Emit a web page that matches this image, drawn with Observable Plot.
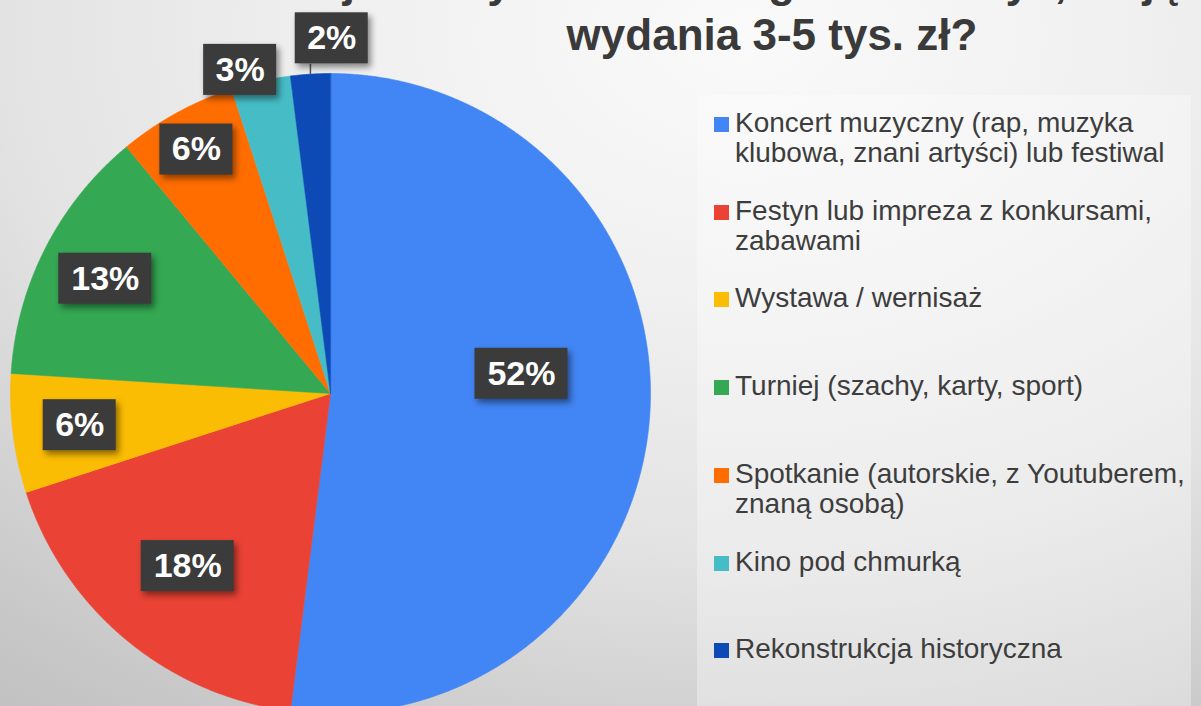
<!DOCTYPE html>
<html><head><meta charset="utf-8">
<script src="https://cdn.jsdelivr.net/npm/d3@7"></script>
<script src="https://cdn.jsdelivr.net/npm/@observablehq/plot@0.6"></script>
<style>
html,body{margin:0;padding:0;width:1201px;height:706px;overflow:hidden}
#wrap{position:relative;width:1201px;height:706px;overflow:hidden;
  background:radial-gradient(ellipse 1300px 900px at 745px 35px,#fafafa 0%,#f0f0f0 30%,#e3e3e3 57%,#c8c8c8 85%,#bdbdbd 100%);
  font-family:"Liberation Sans",Arial,Helvetica,sans-serif}
#panel{position:absolute;left:697px;top:95px;width:494px;height:611px;background:rgba(255,255,255,0.32)}
#chart{position:absolute;left:0;top:0}
#chart svg{background:transparent;overflow:visible}
#chart g[aria-label="rect"] rect{filter:drop-shadow(3px 4px 3px rgba(0,0,0,0.45))}
#title{position:absolute;left:772px;top:-34px;transform:translateX(-50%);white-space:nowrap;text-align:center;
  font-weight:bold;font-size:44px;line-height:46px;color:#3a3a3a}
#title span{display:block;position:relative}
#title span.first{top:-7px}
#legend{position:absolute;left:714px;top:0;width:487px}
.item{position:absolute;left:0;display:flex;align-items:flex-start}
.sw{width:15px;height:15px;margin-top:9px;margin-right:6px;flex:none}
.lt{font-size:28px;line-height:30px;color:#3d3d3d;width:466px}
</style></head><body>
<div id="wrap"><div id="panel"></div><div id="chart"></div><div id="title"></div><div id="legend"></div></div>
<script>
// ---- data ----
const categories = [
  "Koncert muzyczny (rap, muzyka klubowa, znani artyści) lub festiwal",
  "Festyn lub impreza z konkursami, zabawami",
  "Wystawa / wernisaż",
  "Turniej (szachy, karty, sport)",
  "Spotkanie (autorskie, z Youtuberem, znaną osobą)",
  "Kino pod chmurką",
  "Rekonstrukcja historyczna"
];
const values = [52, 18, 6, 13, 6, 3, 2];
const valueLabels = ["52%", "18%", "6%", "13%", "6%", "3%", "2%"];
const colors = ["#4285f4", "#ea4335", "#fbbc04", "#34a853", "#ff6d01", "#46bdc6", "#0d4ab6"];
const titleLines = ["Na jakie wydarzenie zorganizowałbyś, mając do", "wydania 3-5 tys. zł?"];

// ---- layout (label placement, not data) ----
const W = 1201, H = 706, R = 320, CX = 330, CY = 393;
const labelRadius = [0.6, 0.70, 0.79, 0.79, 0.87, 1.05, 1.11];
const labelAngleShift = [-9.5, 0, 0, 0, 0, -3, 3.8];
const boxH = 51;

// ---- geometry from data ----
const total = d3.sum(values);
let acc = 0;
const slices = values.map((v, i) => {
  const a0 = acc / total * 360; acc += v; const a1 = acc / total * 360;
  return {cat: categories[i], a0, a1, mid: (a0 + a1) / 2, i};
});
const rad = d => d * Math.PI / 180;
const pts = [];
for (const s of slices) {
  pts.push({cat: s.cat, x: 0, y: 0});
  const n = Math.max(2, Math.ceil((s.a1 - s.a0) / 0.25));
  for (let k = 0; k <= n; k++) {
    const a = rad(s.a0 + (s.a1 - s.a0) * k / n);
    pts.push({cat: s.cat, x: Math.sin(a), y: Math.cos(a)});
  }
}
const lab = slices.map(s => {
  const a = rad(s.mid + labelAngleShift[s.i]);
  const r = labelRadius[s.i];
  const lx = r * Math.sin(a), ly = r * Math.cos(a);
  const w = (33 + 20 * valueLabels[s.i].length) / R, h = boxH / R;
  return {label: valueLabels[s.i], lx, ly, x1: lx - w / 2, x2: lx + w / 2, y1: ly - h / 2, y2: ly + h / 2,
    ex: Math.sin(rad(s.mid)), ey: Math.cos(rad(s.mid)), outside: r > 1.08};
});
const leaders = lab.filter(d => d.outside);

const chart = Plot.plot({
  width: W, height: H, margin: 0,
  x: {domain: [-CX / R, (W - CX) / R], axis: null},
  y: {domain: [(CY - H) / R, CY / R], axis: null},
  color: {domain: categories, range: colors},
  style: {background: "transparent", overflow: "visible"},
  marks: [
    Plot.line(pts, {x: "x", y: "y", z: "cat", fill: "cat", stroke: "cat", strokeWidth: 0.6, curve: "linear-closed"}),
    Plot.link(leaders, {x1: "ex", y1: "ey", x2: "ex", y2: "y1", stroke: "#555", strokeWidth: 1.5}),
    Plot.rect(lab, {x1: "x1", x2: "x2", y1: "y1", y2: "y2", fill: "#3b3b3b"}),
    Plot.text(lab, {x: "lx", y: "ly", text: "label", fill: "white", fontSize: 34, fontWeight: "bold",
      fontFamily: "'Liberation Sans', Arial, sans-serif"})
  ]
});
document.getElementById("chart").appendChild(chart);

const title = document.getElementById("title");
titleLines.forEach((t, i) => {
  const s = document.createElement("span");
  if (i === 0) s.className = "first";
  s.textContent = t;
  title.appendChild(s);
});

const legend = document.getElementById("legend");
const step = 87.7, top0 = 108;
categories.forEach((c, i) => {
  const it = document.createElement("div");
  it.className = "item";
  it.style.top = (top0 + i * step) + "px";
  const sw = document.createElement("div");
  sw.className = "sw"; sw.style.background = colors[i];
  const t = document.createElement("div");
  t.className = "lt"; t.textContent = c;
  it.appendChild(sw); it.appendChild(t);
  legend.appendChild(it);
});
</script>
</body></html>
